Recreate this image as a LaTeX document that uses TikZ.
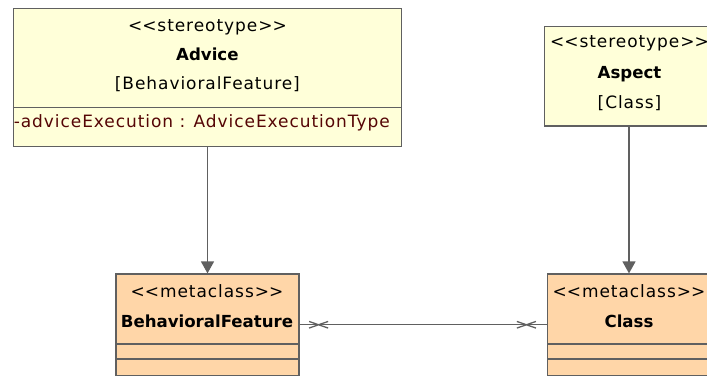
\documentclass[tikz,border=0pt]{standalone}
\usepackage{fontspec}
\newfontfamily\umlfont{DejaVu Sans}[LetterSpace=5.5]
\newfontfamily\umlbf{DejaVu Sans Bold}
\usetikzlibrary{arrows.meta,decorations.markings}
\definecolor{stereofill}{RGB}{255,255,217}
\definecolor{metafill}{RGB}{255,214,168}
\definecolor{umlline}{RGB}{96,96,96}
\definecolor{attrcol}{RGB}{85,5,5}
\begin{document}
\begin{tikzpicture}[
x=1pt,y=-1pt,
stereobox/.style={%
draw=umlline,
fill=stereofill,
line width=1.2pt,
inner sep=0pt,
},
metabox/.style={%
draw=umlline,
fill=metafill,
line width=1.2pt,
inner sep=0pt,
},
txt/.style={%
font=\umlfont\fontsize{17}{20}\selectfont,
anchor=base,
inner sep=0pt,
},
bold/.style={%
font=\umlbf\fontsize{16.6}{20}\selectfont,
anchor=base,
inner sep=0pt,
},
attr/.style={%
font=\umlfont\fontsize{17}{20}\selectfont,
text=attrcol,
anchor=base west,
inner sep=0pt,
},
gen/.style={%
draw=umlline,
line width=1.3pt,
-{Triangle[width=13pt,length=12pt]},
},
assoc/.style={%
draw=umlline,
line width=1.3pt,
postaction={decorate},
decoration={markings,
mark=at position 19pt with {\draw[line width=1.3pt] (-9.5pt,-3.3pt)--(9.5pt,3.3pt) (-9.5pt,3.3pt)--(9.5pt,-3.3pt);},
mark=at position -20.7pt with {\draw[line width=1.3pt] (-9.5pt,-3.3pt)--(9.5pt,3.3pt) (-9.5pt,3.3pt)--(9.5pt,-3.3pt);}},
}
]

\useasboundingbox (0,0) rectangle (707,376);

%Advice
\node[stereobox,minimum width=388.2pt,minimum height=138.4pt] (advice) at (207.5,77.5) {};
\draw[umlline,line width=1.2pt] (advice.west |- 0,107.3) -- (advice.east |- 0,107.3);
\node[txt] (adviceSt) at (207.4,31) {<\kern0pt<stereotype>\kern0pt>};
\node[bold] (adviceName) at (207.4,60) {Advice};
\node[txt] (adviceMeta) at (207.4,89) {[BehavioralFeature]};
\node[attr] (adviceAttr) at (13.6,127.5) {-adviceExecution : AdviceExecutionType};

%Aspect
\node[stereobox,minimum width=169.7pt,minimum height=99.3pt] (aspect) at (629,76.35) {};
\node[txt] (aspectSt) at (629.5,47) {<\kern0pt<stereotype>\kern0pt>};
\node[bold] (aspectName) at (629.5,78) {Aspect};
\node[txt] (aspectMeta) at (629.5,108) {[Class]};

%metaclasses
\node[metabox,minimum width=183pt,minimum height=101.5pt] (bf) at (207.5,324.75) {};
\draw[umlline,line width=1.2pt] (bf.west |- 0,344) -- (bf.east |- 0,344);
\draw[umlline,line width=1.2pt] (bf.west |- 0,359) -- (bf.east |- 0,359);
\node[txt] (bfSt) at (207,297) {<\kern0pt<metaclass>\kern0pt>};
\node[bold] (bfName) at (207,327) {BehavioralFeature};

\node[metabox,minimum width=162.6pt,minimum height=101.5pt] (cls) at (629,324.75) {};
\draw[umlline,line width=1.2pt] (cls.west |- 0,344) -- (cls.east |- 0,344);
\draw[umlline,line width=1.2pt] (cls.west |- 0,359) -- (cls.east |- 0,359);
\node[txt] (clsSt) at (629,297) {<\kern0pt<metaclass>\kern0pt>};
\node[bold] (clsName) at (629,327) {Class};

%extensions
\draw[gen] (advice.south) -- (bf.north);
\draw[gen] (aspect.south) -- (cls.north);

%association
\draw[assoc] (bf.east) -- (cls.west);

\end{tikzpicture}
\end{document}
